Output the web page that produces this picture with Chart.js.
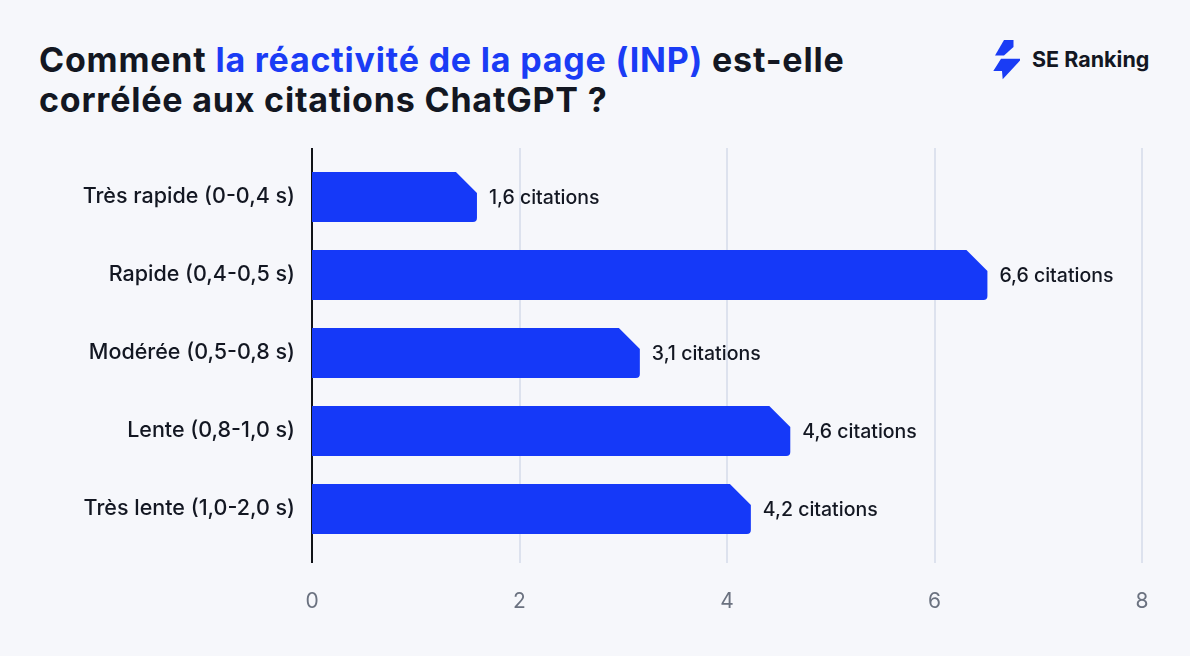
<!DOCTYPE html>
<html>
<head>
<meta charset="utf-8">
<script src="https://cdn.jsdelivr.net/npm/chart.js@4/dist/chart.umd.min.js"></script>
<style>
  html, body { margin: 0; padding: 0; background: #f6f7fb; }
  body { width: 1190px; height: 656px; position: relative; overflow: hidden; font-family: Inter, "Noto Sans", sans-serif; }
  #title { position: absolute; left: 39px; top: 40px; font-size: 34px; line-height: 40px; font-weight: 700; color: #131722; letter-spacing: 0.8px; }
  #title .hl { color: #1a3cf5; }
  #logo { position: absolute; left: 985px; top: 36px; width: 190px; height: 50px; }
  #logo span { position: absolute; left: 47px; top: 10px; font-size: 21.5px; font-weight: 700; color: #131722; letter-spacing: 0; }
  #wrap { position: absolute; left: 0; top: 0; width: 1190px; height: 656px; }
</style>
</head>
<body>
<div id="title">Comment <span class="hl">la réactivité de la page (INP)</span> est-elle<br>corrélée aux citations ChatGPT ?</div>
<div id="logo">
  <svg width="40" height="50" viewBox="980 36 40 50" style="position:absolute;left:-5px;top:0">
    <polygon points="1004,40 1013.5,40 1013.5,47 1004,55.5 995,55.5" fill="#1a3cf5"/>
    <polygon points="1001,58.7 1021.7,58.7 1002.7,79.3 1002,71 993.3,71" fill="#1a3cf5"/>
  </svg>
  <span>SE Ranking</span>
</div>
<div id="wrap"><canvas id="c" width="1190" height="656"></canvas></div>
<script>
const categories = ["Très rapide (0-0,4 s)", "Rapide (0,4-0,5 s)", "Modérée (0,5-0,8 s)", "Lente (0,8-1,0 s)", "Très lente (1,0-2,0 s)"];
const values = [1.59, 6.51, 3.16, 4.61, 4.23];
const valueLabels = ["1,6 citations", "6,6 citations", "3,1 citations", "4,6 citations", "4,2 citations"];
const xTicks = [0, 2, 4, 6, 8];

const BAR = "#1539f8";
const DARK = "#131722";

const chamferBars = {
  id: "chamferBars",
  beforeDatasetsDraw(chart) {
    const ctx = chart.ctx, xs = chart.scales.x, ca = chart.chartArea;
    ctx.save();
    xTicks.forEach(v => {
      const px = Math.round(xs.getPixelForValue(v));
      ctx.beginPath();
      ctx.strokeStyle = v === 0 ? "#111318" : "#dde2ee";
      ctx.lineWidth = 2;
      ctx.moveTo(px, ca.top - 10);
      ctx.lineTo(px, ca.bottom + 15);
      ctx.stroke();
    });
    ctx.restore();
  },
  afterDatasetsDraw(chart) {
    const ctx = chart.ctx;
    const meta = chart.getDatasetMeta(0);
    ctx.save();
    meta.data.forEach((el, i) => {
      const left = el.base, right = el.x, h = el.height;
      const top = el.y - h / 2, bottom = el.y + h / 2;
      const c = 21, r = 4;
      ctx.beginPath();
      ctx.moveTo(left, top);
      ctx.lineTo(right - c, top);
      ctx.lineTo(right, top + c);
      ctx.lineTo(right, bottom - r);
      ctx.quadraticCurveTo(right, bottom, right - r, bottom);
      ctx.lineTo(left, bottom);
      ctx.closePath();
      ctx.fillStyle = BAR;
      ctx.fill();
      ctx.fillStyle = DARK;
      ctx.font = "500 19.5px Inter, 'Noto Sans', sans-serif";
      ctx.textBaseline = "middle";
      ctx.textAlign = "left";
      ctx.fillText(valueLabels[i], right + 12, el.y + 1);
    });
    ctx.restore();
  }
};

new Chart(document.getElementById("c"), {
  type: "bar",
  data: {
    labels: categories,
    datasets: [{ data: values, backgroundColor: "rgba(0,0,0,0)", borderWidth: 0, barThickness: 50 }]
  },
  options: {
    indexAxis: "y",
    responsive: false,
    animation: false,
    devicePixelRatio: 1,
    layout: { padding: { top: 158, right: 48, left: 0, bottom: 0 } },
    plugins: { legend: { display: false }, tooltip: { enabled: false } },
    scales: {
      x: {
        min: 0, max: 8,
        afterBuildTicks(s) { s.ticks = xTicks.map(v => ({ value: v })); },
        afterFit(s) { s.height = 108; },
        grid: { display: false, drawTicks: false },
        border: { display: false },
        ticks: { color: "#6b7280", font: { family: "Inter", size: 21 }, padding: 41 }
      },
      y: {
        afterFit(s) { s.width = 312; },
        grid: { display: false, drawTicks: false },
        border: { display: false },
        ticks: { color: DARK, font: { family: "Inter", size: 21.5, weight: "500" }, padding: 17 }
      }
    }
  },
  plugins: [chamferBars]
});
</script>
</body>
</html>
